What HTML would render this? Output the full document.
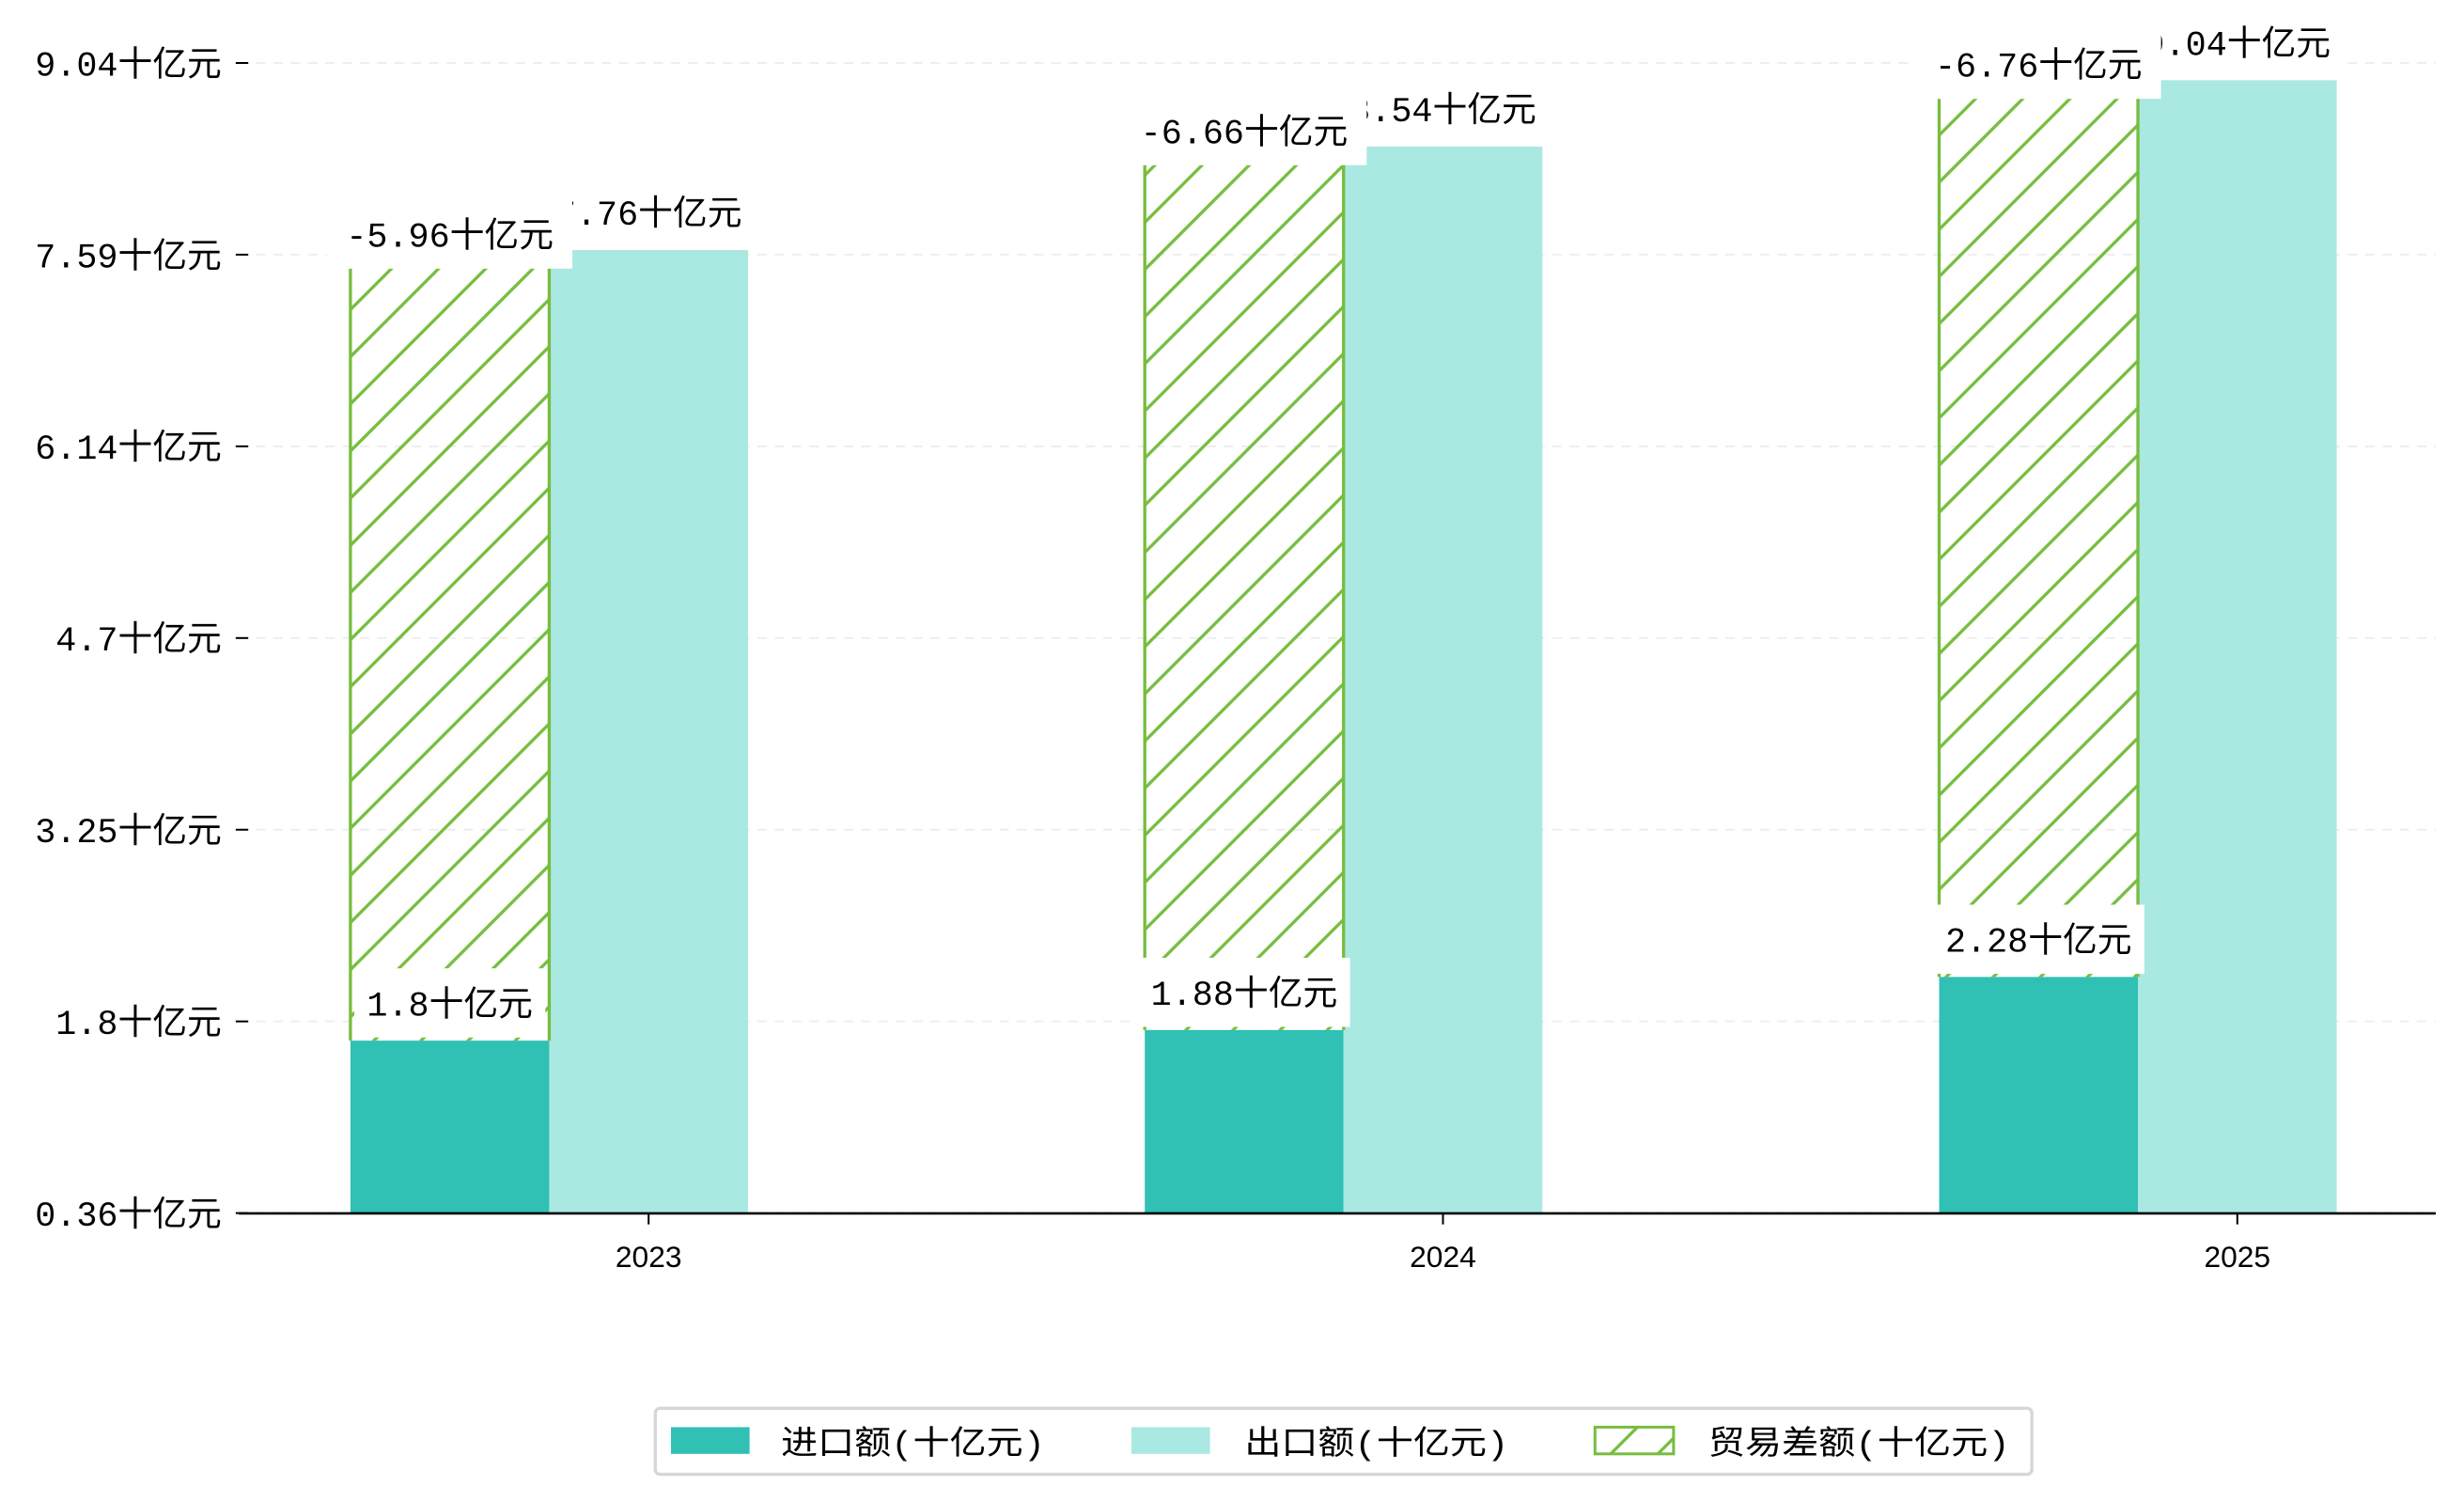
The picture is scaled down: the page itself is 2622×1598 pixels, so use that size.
<!DOCTYPE html>
<html><head><meta charset="utf-8"><style>
html,body{margin:0;padding:0;background:#fff;}
svg{display:block;}
text{font-family:"Liberation Mono","Noto Sans CJK SC",monospace;fill:#000;}
text.xl{font-family:"Liberation Sans",sans-serif;}
</style></head><body>
<svg id="chart" width="2622" height="1598" viewBox="0 0 1568 955.6" xmlns="http://www.w3.org/2000/svg">
<defs>
<pattern id="hatch" patternUnits="userSpaceOnUse" width="30" height="30">
<line x1="-5" y1="35" x2="35" y2="-5" stroke="#77bd3f" stroke-width="2"/>
<line x1="-35" y1="35" x2="5" y2="-5" stroke="#77bd3f" stroke-width="2"/>
<line x1="25" y1="35" x2="65" y2="-5" stroke="#77bd3f" stroke-width="2"/>
</pattern>
</defs>
<g id="grid"></g>
<g id="bars"></g>
<g id="labels"></g>
<g id="axes"></g>
<g id="legend">
<rect x="417" y="896" width="876" height="42" rx="3" fill="#fff" stroke="#d6d6d6" stroke-width="2"/>
<g>
<rect x="427" y="908" width="50" height="17" fill="#30c0b4"/>
<text x="497" y="925" font-size="21" textLength="168" lengthAdjust="spacingAndGlyphs">进口额(十亿元)</text></g>
<g>
<rect x="720" y="908" width="50" height="17" fill="#aae8e2"/>
<text x="792" y="925" font-size="21" textLength="168" lengthAdjust="spacingAndGlyphs">出口额(十亿元)</text></g>
<g>
<rect x="1015" y="908" width="50" height="17" fill="url(#hatch)" stroke="#77bd3f" stroke-width="1.8"/>
<text x="1087" y="925" font-size="21" textLength="192" lengthAdjust="spacingAndGlyphs">贸易差额(十亿元)</text></g>
</g>
</svg>
<script>
const categories = ["2023","2024","2025"];
const importVals = [1.8, 1.88, 2.28];
const exportVals = [7.76, 8.54, 9.04];
const balanceVals = [-5.96, -6.66, -6.76];
const tickVals = [0.5, 1.945, 3.39, 4.835, 6.28, 7.725, 9.17];
const tickLabels = ["0.36十亿元","1.8十亿元","3.25十亿元","4.7十亿元","6.14十亿元","7.59十亿元","9.04十亿元"];

const NS = "http://www.w3.org/2000/svg";
const y = v => 814 - 84.4 * v;
const groupX = i => 223 + i * 505.5;
const BW = 126.5;
function mk(tag, attrs, parent){const e=document.createElementNS(NS,tag);for(const k in attrs)e.setAttribute(k,attrs[k]);parent.appendChild(e);return e;}
const grid=document.getElementById('grid'), bars=document.getElementById('bars'), labels=document.getElementById('labels'), axes=document.getElementById('axes');

tickVals.forEach((v,i)=>{
  const gl=mk('line',{x1:152,x2:1550,y1:y(v),y2:y(v),stroke:'#ececec','stroke-width':1,'stroke-dasharray':'6,5'},grid);
  
  
  const tk=mk('line',{x1:150,x2:158,y1:y(v),y2:y(v),stroke:'#000','stroke-width':1.2},axes);
  
  
  const t=mk('text',{x:141,y:y(v)+8,'font-size':22,'text-anchor':'end'},axes);
  t.textContent=tickLabels[i];
  
  
});
const ax=mk('line',{x1:152,x2:1550,y1:772,y2:772,stroke:'#000','stroke-width':1.6},axes);



function labelBox(txt,cx,bottom,name,pad){
  const g=mk('g',{},labels);
  
  
  const t=mk('text',{x:cx,y:bottom-14,'font-size':22,'text-anchor':'middle'},g);
  t.textContent=txt;
  const bb=t.getBBox();
  const r=mk('rect',{x:bb.x-pad,y:bottom-44,width:bb.width+2*pad,height:44,fill:'#fff'},g);
  g.insertBefore(r,t);
}
const fmt=n=>String(n)+"十亿元";

categories.forEach((c,i)=>{
  const x0=groupX(i);
  const imp=mk('rect',{x:x0,y:y(importVals[i]),width:BW,height:772-y(importVals[i]),fill:'#30c0b4'},bars);
  
  
  const exp=mk('rect',{x:x0+BW,y:y(exportVals[i]),width:BW,height:772-y(exportVals[i]),fill:'#aae8e2'},bars);
  
  
  const top=y(importVals[i]+Math.abs(balanceVals[i])-0.14);
  const bot=y(importVals[i]);
  const hb=mk('rect',{x:x0,y:top,width:BW,height:bot-top,fill:'url(#hatch)'},bars);
  
  
  mk('line',{x1:x0,x2:x0,y1:top,y2:bot,stroke:'#77bd3f','stroke-width':2},bars);
  mk('line',{x1:x0+BW,x2:x0+BW,y1:top,y2:bot,stroke:'#77bd3f','stroke-width':2},bars);
  const tk=mk('line',{x1:x0+BW*1.5,x2:x0+BW*1.5,y1:772,y2:779,stroke:'#000','stroke-width':1.2},axes);
  
  
  const xl=mk('text',{x:x0+BW*1.5,y:806,'font-size':19,'text-anchor':'middle','class':'xl'},axes);
  xl.textContent=c;
  
  
  labelBox(fmt(exportVals[i]),x0+BW*1.5,y(exportVals[i])-2,'label-export-'+c,7);
  labelBox(fmt(balanceVals[i]),x0+BW/2,top,'label-balance-'+c,12);
  labelBox(fmt(importVals[i]),x0+BW/2,bot-2,'label-import-'+c,8);
});
</script>
</body></html>
